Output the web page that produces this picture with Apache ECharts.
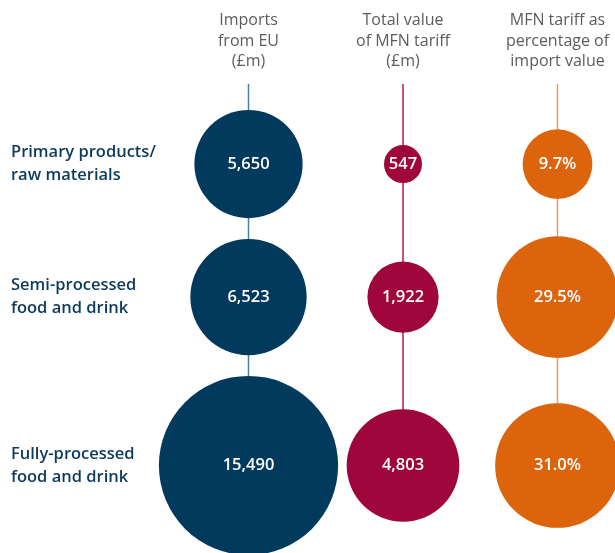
<!DOCTYPE html>
<html><head><meta charset="utf-8">
<script src="https://cdn.jsdelivr.net/npm/echarts@6/dist/echarts.min.js"></script>
<style>html,body{margin:0;padding:0;background:#fff}#c{width:615px;height:553px}</style>
</head><body><div id="c"></div>
<script>
// ---- data ----
const rowLabels = ['Primary products/\nraw materials', 'Semi-processed\nfood and drink', 'Fully-processed\nfood and drink'];
const columnHeaders = ['Imports\nfrom EU\n(£m)', 'Total value\nof MFN tariff\n(£m)', 'MFN tariff as\npercentage of\nimport value'];
const importsFromEU = [5650, 6523, 15490];
const mfnTariffValue = [547, 1922, 4803];
const mfnTariffPct = [9.7, 29.5, 31.0];

// ---- style ----
const columns = [importsFromEU, mfnTariffValue, mfnTariffPct];
const bubbleColors = ['#023a5e', '#9f063b', '#dc640d'];
const lineColors = ['#4a7ea8', '#b0184c', '#ee9a58'];
const diamScale = [1.44, 1.625, 22.4]; // diameter per sqrt(value), each column its own scale
const fmt = [v => v.toLocaleString('en-GB'), v => v.toLocaleString('en-GB'), v => v.toFixed(1) + '%'];
const gridTop = 84, chartH = 553;
const topPad = 26, rowGap = 18;

// row layout stacked by largest bubble in each row
const diam = columns.map((vals, c) => vals.map(v => diamScale[c] * Math.sqrt(v)));
const rowCenters = [];
let y = topPad;
rowLabels.forEach((_, i) => {
  const r = Math.max(...diam.map(d => d[i])) / 2;
  y += r; rowCenters.push(y); y += r + rowGap;
});

const series = [];
columns.forEach((vals, c) => {
  series.push({
    type: 'line', symbol: 'none', silent: true, z: 1,
    lineStyle: { color: lineColors[c], width: 1.5 },
    data: [[columnHeaders[c], 0]].concat(vals.map((v, i) => [columnHeaders[c], rowCenters[i]]))
  });
  series.push({
    type: 'scatter', z: 2, symbol: 'circle',
    itemStyle: { color: bubbleColors[c], opacity: 1 },
    symbolSize: d => diamScale[c] * Math.sqrt(d[2]),
    label: {
      show: true, position: 'inside', color: '#fff',
      fontFamily: 'Open Sans', fontSize: 16.5, fontWeight: 600,
      formatter: p => fmt[c](p.data[2])
    },
    data: vals.map((v, i) => [columnHeaders[c], rowCenters[i], v])
  });
});

const chart = echarts.init(document.getElementById('c'));
chart.setOption({
  animation: false,
  grid: { left: 248.5, right: 57.5, top: gridTop, bottom: 0 },
  xAxis: {
    type: 'category', data: columnHeaders, position: 'top', boundaryGap: false,
    axisLine: { show: false }, axisTick: { show: false }, splitLine: { show: false },
    axisLabel: { interval: 0, margin: 12, color: '#5c5c5c', fontFamily: 'Open Sans', fontWeight: 400, fontSize: 16, lineHeight: 20.5 }
  },
  yAxis: {
    type: 'value', inverse: true, min: 0, max: chartH - gridTop,
    axisLine: { show: false }, axisTick: { show: false }, splitLine: { show: false },
    axisLabel: {
      customValues: rowCenters, align: 'left', margin: 237.5,
      color: '#0c3a5c', fontFamily: 'Open Sans', fontWeight: 600, fontSize: 16.5, lineHeight: 23,
      formatter: v => { const i = rowCenters.findIndex(c => Math.abs(c - v) < 0.5); return i >= 0 ? rowLabels[i] : ''; }
    }
  },
  series: series
});
</script></body></html>
